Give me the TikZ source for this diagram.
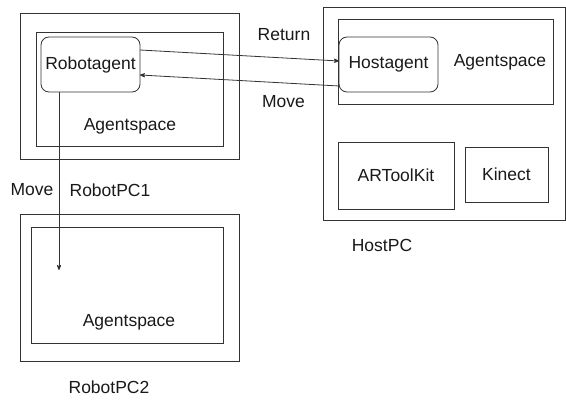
\documentclass[tikz,border=0pt]{standalone}
\usepackage{fontspec}
\setmainfont{Liberation Sans}
\usetikzlibrary{positioning}
\usetikzlibrary{arrows}

\begin{document}
\begin{tikzpicture}[x=1pt,y=-1pt,->,>=stealth',
  every node/.style={font=\fontsize{17.5}{20}\selectfont, text=black!90, inner sep=0pt, outer sep=0pt},
  box/.style={draw=black!80, line width=0.8pt},
  agent/.style={box, rounded corners=8pt}]
      \useasboundingbox (0,0) rectangle (566,401);
      % robot side
      \node[box, minimum width=219pt, minimum height=146pt] (pc1) at (129.5,86) {};
      \node[box, minimum width=187pt, minimum height=114pt] (space1) at (129.5,89) {};
      \node[agent, minimum width=99pt, minimum height=55pt] (ra) at (90.5,64.5) {Robotagent};
      \node (space1lbl) at (130,126) {Agentspace};
      \node (pc1lbl) at (110,190) {RobotPC1};
      \node[box, minimum width=219pt, minimum height=147pt] (pc2) at (129.5,287.5) {};
      \node[box, minimum width=192pt, minimum height=116pt] (space2) at (127,285) {};
      \node (space2lbl) at (129,322) {Agentspace};
      \node (pc2lbl) at (109,387) {RobotPC2};
      % host side
      \node[box, minimum width=242pt, minimum height=213pt] (host) at (444,113.5) {};
      \node[box, minimum width=215pt, minimum height=85pt] (space3) at (445.5,61.5) {};
      \node[agent, minimum width=99pt, minimum height=55pt] (ha) at (388.5,64.5) {Hostagent};
      \node (space3lbl) at (500,62) {Agentspace};
      \node[box, minimum width=116pt, minimum height=67pt] (artk) at (396,175.5) {ARToolKit};
      \node[box, minimum width=83pt, minimum height=55pt] (kinect) at (506.5,174.5) {Kinect};
      \node (hostlbl) at (382,245) {HostPC};
      % migration
      \node (ret) at (284,35) {Return};
      \node (mvup) at (283.5,102) {Move};
      \node (mvdown) at (32,190) {Move};
      \coordinate (drop) at (59,270);
      \draw[black!80, line width=0.8pt] ([yshift=14.5pt]ra.east) -- ([yshift=3.5pt]ha.west);
      \draw[black!80, line width=0.8pt] ([yshift=-21.5pt]ha.west) -- ([yshift=-10.5pt]ra.east);
      \draw[black!80, line width=0.8pt] ([xshift=-31.5pt]ra.south) -- (drop);
\end{tikzpicture}
\end{document}
